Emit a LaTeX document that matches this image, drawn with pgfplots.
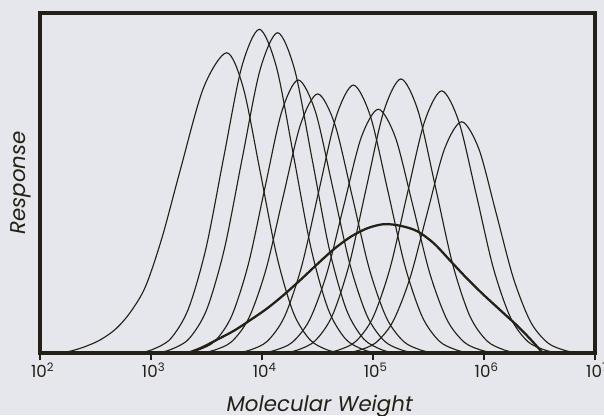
\documentclass[border=0pt]{standalone}
\usepackage{fontspec}
\setmainfont{Poppins}
\usepackage{pgfplots}
\pgfplotsset{compat=1.18}
\definecolor{ink}{RGB}{35,33,22}
\definecolor{bgcol}{RGB}{230,231,236}
\begin{document}
\begin{tikzpicture}
\fill[bgcol] (0,0) rectangle (453pt,311.25pt);
\useasboundingbox (0,0) rectangle (453pt,311.25pt);
\begin{axis}[
  at={(30pt,46.5pt)}, anchor=south west,
  scale only axis, width=416.25pt, height=255pt,
  xmin=2, xmax=7, ymin=0, ymax=1,
  axis line style={line width=3pt, color=ink},
  xtick={2,3,4,5,6,7},
  xticklabels={10\textsuperscript{2},10\textsuperscript{3},10\textsuperscript{4},10\textsuperscript{5},10\textsuperscript{6},10\textsuperscript{7}},
  ytick=\empty,
  xtick pos=bottom,
  tick align=outside,
  major tick length=5.5pt,
  tick style={line width=0.9pt, color=ink},
  xticklabel style={font=\fontsize{12.5}{14}\selectfont, text=ink, anchor=base, yshift=-13pt, xshift=2pt},
  xlabel={Molecular Weight},
  ylabel={Response},
  xlabel style={font=\fontsize{16}{18}\selectfont\itshape, text=ink, at={(axis description cs:0.504,-0.172)}, anchor=base},
  ylabel style={font=\fontsize{16}{18}\selectfont\itshape, text=ink, at={(axis description cs:-0.027,0.5)}, anchor=base},
  clip=true,
  pk/.style={color=ink, solid, mark=none, line width=0.85pt, smooth},
]
% peak A
\addplot[pk] coordinates {(2.18,0) (2.28,0.006) (2.40,0.018) (2.54,0.038) (2.68,0.070) (2.81,0.118) (2.95,0.195) (3.10,0.340) (3.262,0.536) (3.472,0.779) (3.682,0.883) (3.832,0.779) (3.982,0.536) (4.132,0.287) (4.282,0.119) (4.432,0.039) (4.582,0.0098) (4.70,0)};
% peak B
\addplot[pk] coordinates {(2.896,0) (3.016,0.0106) (3.176,0.0418) (3.336,0.129) (3.496,0.309) (3.656,0.577) (3.816,0.840) (3.976,0.952) (4.131,0.840) (4.286,0.577) (4.441,0.309) (4.596,0.129) (4.751,0.0418) (4.906,0.0106) (5.03,0)};
% peak C
\addplot[pk] coordinates {(3.06,0) (3.181,0.0105) (3.341,0.0414) (3.501,0.127) (3.661,0.306) (3.821,0.571) (3.981,0.831) (4.141,0.942) (4.296,0.831) (4.451,0.571) (4.606,0.306) (4.761,0.127) (4.916,0.0414) (5.071,0.0105) (5.19,0)};
% peak D
\addplot[pk] coordinates {(3.31,0) (3.427,0.0089) (3.577,0.0353) (3.727,0.109) (3.877,0.261) (4.027,0.487) (4.177,0.709) (4.327,0.803) (4.482,0.709) (4.637,0.487) (4.792,0.261) (4.947,0.109) (5.102,0.0353) (5.257,0.0089) (5.38,0)};
% peak E
\addplot[pk] coordinates {(3.45,0) (3.572,0.0085) (3.727,0.0335) (3.882,0.103) (4.037,0.247) (4.192,0.462) (4.347,0.672) (4.502,0.762) (4.657,0.672) (4.812,0.462) (4.967,0.247) (5.122,0.103) (5.277,0.0335) (5.432,0.0085) (5.55,0)};
% peak F
\addplot[pk] coordinates {(3.77,0) (3.893,0.0087) (4.048,0.0346) (4.203,0.107) (4.358,0.256) (4.513,0.478) (4.668,0.695) (4.823,0.788) (4.978,0.695) (5.133,0.478) (5.288,0.256) (5.443,0.107) (5.598,0.0346) (5.753,0.0087) (5.87,0)};
% peak G
\addplot[pk] coordinates {(4.0,0) (4.118,0.008) (4.273,0.0315) (4.428,0.097) (4.583,0.233) (4.738,0.435) (4.893,0.633) (5.048,0.717) (5.203,0.633) (5.358,0.435) (5.513,0.233) (5.668,0.097) (5.823,0.0315) (5.978,0.008) (6.10,0)};
% peak H
\addplot[pk] coordinates {(4.20,0) (4.322,0.0089) (4.477,0.0354) (4.632,0.109) (4.787,0.262) (4.942,0.489) (5.097,0.711) (5.252,0.806) (5.407,0.711) (5.562,0.489) (5.717,0.262) (5.872,0.109) (6.027,0.0354) (6.182,0.0089) (6.30,0)};
% peak I
\addplot[pk] coordinates {(4.57,0) (4.689,0.0086) (4.844,0.0338) (4.999,0.104) (5.154,0.250) (5.309,0.468) (5.464,0.680) (5.619,0.771) (5.774,0.680) (5.929,0.468) (6.084,0.250) (6.239,0.104) (6.394,0.0338) (6.549,0.0086) (6.67,0)};
% peak J
\addplot[pk] coordinates {(4.75,0) (4.869,0.0075) (5.024,0.0299) (5.179,0.092) (5.334,0.221) (5.489,0.412) (5.644,0.600) (5.799,0.680) (5.954,0.600) (6.109,0.412) (6.264,0.221) (6.419,0.092) (6.574,0.0299) (6.729,0.0075) (6.85,0)};
% broad sample
\addplot[pk, line width=1.7pt] coordinates {(3.33,0) (3.45,0.015) (3.60,0.040) (3.75,0.066) (3.90,0.098) (4.05,0.132) (4.20,0.172) (4.35,0.216) (4.50,0.262) (4.65,0.306) (4.80,0.342) (4.95,0.367) (5.10,0.379) (5.25,0.374) (5.40,0.358) (5.55,0.322) (5.70,0.270) (5.85,0.218) (6.00,0.170) (6.15,0.125) (6.30,0.080) (6.42,0.040) (6.53,0)};
\end{axis}
\end{tikzpicture}
\end{document}
